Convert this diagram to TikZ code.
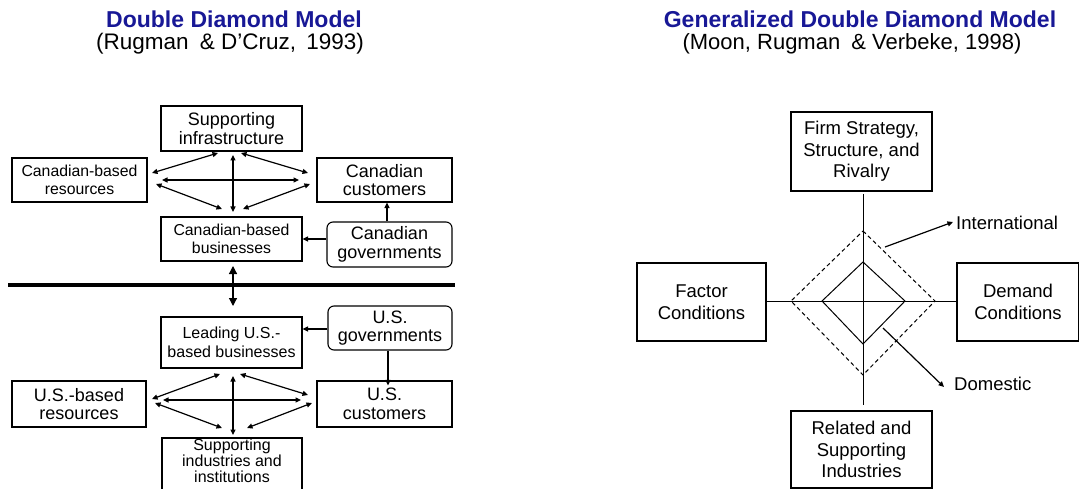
\documentclass[tikz,border=0pt]{standalone}
\usepackage{fontspec}
\setmainfont{Liberation Sans}
\usetikzlibrary{arrows.meta}
\definecolor{titleblue}{RGB}{24,24,150}
\begin{document}
\begin{tikzpicture}[x=1pt,y=-1pt,
  box/.style={draw, line width=1.1pt, align=center, inner sep=0pt},
  rbox/.style={box, rounded corners=6pt},
  fA/.style={font=\fontsize{18}{18.5}\selectfont},
  fB/.style={font=\fontsize{15.8}{17.5}\selectfont},
  fC/.style={font=\fontsize{18.5}{21.5}\selectfont},
  tip/.style={-{Triangle[length=5.5pt,width=5pt]}},
  dtip/.style={{Triangle[length=5.5pt,width=5pt]}-{Triangle[length=5.5pt,width=5pt]}},
  conn/.style={line width=1.2pt},
  thin/.style={line width=1pt}]
\useasboundingbox (0,0) rectangle (1079,489);

% ---------- titles ----------
\node[anchor=base, text=titleblue, font=\fontsize{23}{23}\selectfont\bfseries] (t1) at (234,28) {Double Diamond Model};
\node[anchor=base, font=\fontsize{22.5}{22.5}\selectfont] (s1) at (230,50) {(Rugman\hspace{5pt} \& D’Cruz,\hspace{4pt} 1993)};
\node[anchor=base, text=titleblue, font=\fontsize{23}{23}\selectfont\bfseries] (t2) at (860,28) {Generalized Double Diamond Model};
\node[anchor=base, font=\fontsize{22}{22}\selectfont] (s2) at (852,50) {(Moon, Rugman\hspace{5pt} \& Verbeke, 1998)};

% ---------- Canadian diamond ----------
\node[box, fA, minimum width=141, minimum height=45] (infra) at (231.5,128.5) {Supporting\\infrastructure};
\node[box, fB, minimum width=135, minimum height=44] (cres) at (79.5,180) {Canadian-based\\resources};
\node[box, fA, minimum width=135, minimum height=44] (ccust) at (384.5,180) {Canadian\\customers};
\node[box, fB, minimum width=141, minimum height=44] (cbus) at (231.5,239) {Canadian-based\\businesses};
\node[rbox, fA, minimum width=125, minimum height=45] (cgov) at (389.5,244.5) {Canadian\\governments};

\coordinate (ca1) at (152,173); \coordinate (cb1) at (218,153);
\coordinate (ca2) at (241,153); \coordinate (cb2) at (308,173);
\coordinate (ca3) at (162,180); \coordinate (cb3) at (299,180);
\coordinate (ca4) at (233,155); \coordinate (cb4) at (233,212);
\coordinate (ca5) at (156,184); \coordinate (cb5) at (222,209);
\coordinate (ca6) at (243,209); \coordinate (cb6) at (310,184);
\foreach \i in {1,...,6} {\draw[conn,dtip] (ca\i) -- (cb\i);}
\draw[conn,tip] (cgov.north -| 387,0) -- (ccust.south -| 387,0);
\draw[conn,tip] (cgov.west |- 0,239) -- (cbus.east |- 0,239);

% ---------- border ----------
\coordinate (bl) at (8,285); \coordinate (br) at (455,285);
\draw[line width=4pt] (bl) -- (br);
\coordinate (v1) at (233,266); \coordinate (v2) at (233,306);
\draw[conn,{Triangle[length=8pt,width=8pt]}-{Triangle[length=8pt,width=8pt]}] (v1) -- (v2);

% ---------- U.S. diamond ----------
\node[box, minimum width=141, minimum height=51, font=\fontsize{16}{19}\selectfont] (usbus) at (231.5,342.5) {Leading U.S.-\\based businesses};
\node[rbox, fA, minimum width=124, minimum height=44] (usgov) at (390,328) {U.S.\\governments};
\node[box, fA, minimum width=134, minimum height=46] (usres) at (79,404) {U.S.-based\\resources};
\node[box, fA, minimum width=135, minimum height=46] (uscust) at (384.5,404) {U.S.\\customers};
\node[box, minimum width=140, minimum height=64] (supind) at (232,470) {};
\node[align=center, inner sep=0pt, font=\fontsize{16}{16}\selectfont] (supindtext) at (232,461) {Supporting\\industries and\\institutions};

\coordinate (ua1) at (152,399); \coordinate (ub1) at (220,374);
\coordinate (ua2) at (240,374); \coordinate (ub2) at (308,395);
\coordinate (ua3) at (163,400); \coordinate (ub3) at (301,400);
\coordinate (ua4) at (233,376); \coordinate (ub4) at (233,435);
\coordinate (ua5) at (155,403); \coordinate (ub5) at (222,428);
\coordinate (ua6) at (247,428); \coordinate (ub6) at (312,403);
\foreach \i in {1,...,6} {\draw[conn,dtip] (ua\i) -- (ub\i);}
\draw[conn,tip] (usgov.west |- 0,329) -- (usbus.east |- 0,329);
\draw[conn,tip] (usgov.south -| 388,0) -- ([yshift=-5pt]uscust.north -| 388,0);

% ---------- Generalized model ----------
\node[box, fC, minimum width=141, minimum height=79] (firm) at (861.5,151.5) {Firm Strategy,\\Structure, and\\Rivalry};
\node[box, fC, minimum width=129, minimum height=78] (factor) at (701.5,302) {Factor\\Conditions};
\node[box, fC, minimum width=122, minimum height=78] (demand) at (1018,302) {Demand\\Conditions};
\node[box, fC, minimum width=141, minimum height=77] (related) at (861.5,449.5) {Related and\\Supporting\\Industries};

\coordinate (c) at (863,301);
\coordinate (vt) at (863,194); \coordinate (vb) at (863,405);
\draw[thin] (vt) -- (vb);
\draw[thin] (factor.east |- c) -- (demand.west |- c);
\coordinate (dt) at (863,262); \coordinate (dr) at (905,301);
\coordinate (db) at (863,344); \coordinate (dl) at (822,301);
\draw[thin] (dt) -- (dr) -- (db) -- (dl) -- cycle;
\coordinate (ot) at (863,231); \coordinate (or) at (935,301);
\coordinate (ob) at (863,375); \coordinate (ol) at (791,301);
\draw[thin, dash pattern=on 4pt off 3pt] (ot) -- (or) -- (ob) -- (ol) -- cycle;

\node[anchor=west, inner sep=0pt, fC] (intl) at (956,223) {International};
\node[anchor=west, inner sep=0pt, fC] (dom) at (954,384) {Domestic};
\coordinate (ia) at (885,247);
\coordinate (da) at (883,328);
\draw[conn,tip] (ia) -- ([xshift=-3pt,yshift=1pt]intl.west);
\draw[conn,tip] (da) -- ([xshift=-10pt,yshift=-3pt]dom.west);
\end{tikzpicture}
\end{document}
